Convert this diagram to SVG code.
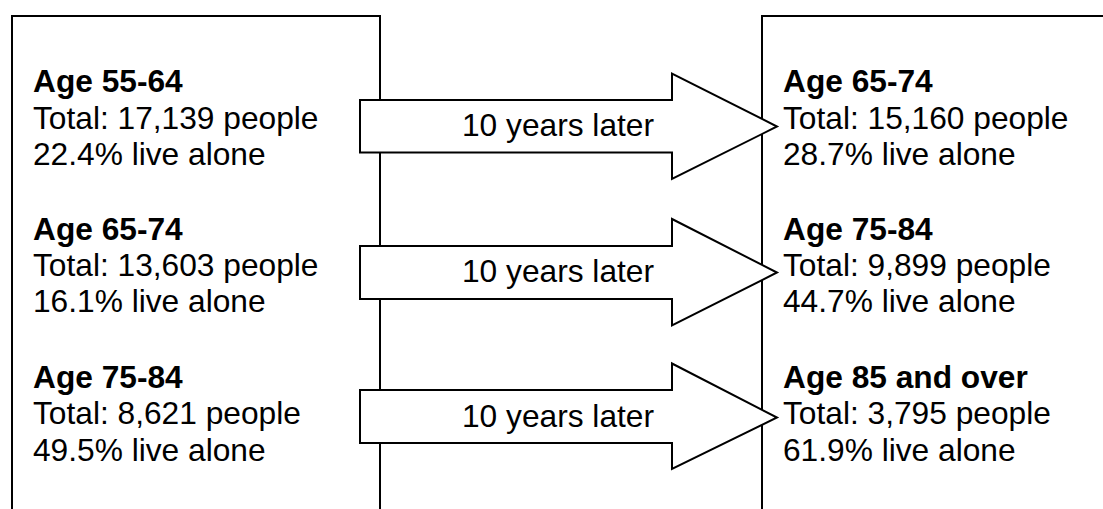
<svg xmlns="http://www.w3.org/2000/svg" width="1103" height="509" viewBox="0 0 1103 509">
<style>
.box{fill:#fff;stroke:#000;stroke-width:2}
.arrow{fill:#fff;stroke:#000;stroke-width:2;stroke-linejoin:miter}
text{font-family:"Liberation Sans",Arial,sans-serif;font-size:31.7px;fill:#000}
.b{font-weight:bold}
.lbl{text-anchor:middle}
</style>
<rect width="1103" height="509" fill="#fff"/>
<g id="left-box">
<path class="box" d="M12,520 V16 H380 V520"/>
<g id="left-1"><text class="b" x="33" y="92">Age 55-64</text><text x="33" y="128.5">Total: 17,139 people</text><text x="33" y="165">22.4% live alone</text></g>
<g id="left-2"><text class="b" x="33" y="240">Age 65-74</text><text x="33" y="276">Total: 13,603 people</text><text x="33" y="312">16.1% live alone</text></g>
<g id="left-3"><text class="b" x="33" y="387.5">Age 75-84</text><text x="33" y="424">Total: 8,621 people</text><text x="33" y="460.5">49.5% live alone</text></g>
</g>
<g id="right-box">
<path class="box" d="M762,520 V16 H1120"/>
<g id="right-1"><text class="b" x="783" y="92">Age 65-74</text><text x="783" y="128.5">Total: 15,160 people</text><text x="783" y="165">28.7% live alone</text></g>
<g id="right-2"><text class="b" x="783" y="240">Age 75-84</text><text x="783" y="276">Total: 9,899 people</text><text x="783" y="312">44.7% live alone</text></g>
<g id="right-3"><text class="b" x="783" y="387.5">Age 85 and over</text><text x="783" y="424">Total: 3,795 people</text><text x="783" y="460.5">61.9% live alone</text></g>
</g>
<g id="connectors">
<g id="arrow-1"><path class="arrow" d="M360,100 H672 V73.5 L777,126.5 L672,179 V152.5 H360 Z"/><text class="lbl" x="558" y="136">10 years later</text></g>
<g id="arrow-2"><path class="arrow" d="M360,246 H672 V219 L777,272.5 L672,325.5 V299 H360 Z"/><text class="lbl" x="558" y="282">10 years later</text></g>
<g id="arrow-3"><path class="arrow" d="M360,390 H672 V363.5 L777,417.5 L672,469 V443 H360 Z"/><text class="lbl" x="558" y="427">10 years later</text></g>
</g>
</svg>
